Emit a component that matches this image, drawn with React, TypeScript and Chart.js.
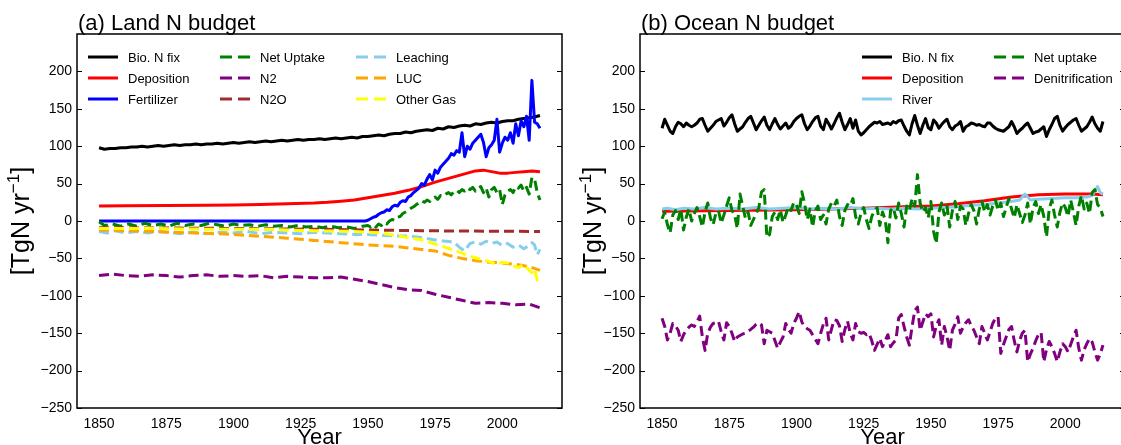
import React, { useEffect, useRef } from 'react';
import { Chart, registerables } from 'chart.js';

Chart.register(...registerables);

const FONT = '"Liberation Sans", Arial, Helvetica, sans-serif';

const X_TICKS = [1850, 1875, 1900, 1925, 1950, 1975, 2000];
const Y_TICKS = [-250, -200, -150, -100, -50, 0, 50, 100, 150, 200];
const X_RANGE = [1841.8, 2022.2];
const Y_RANGE = [-250, 250];

type Pair = [number, number];

// ---------------- Land N budget ----------------
const LAND_BIOFIX: Pair[] = [
  [1850, 98], [1852, 96], [1854, 97], [1856, 97], [1858, 98], [1860, 98], [1862, 99], [1864, 99],
  [1866, 100], [1868, 99], [1870, 100], [1872, 101], [1874, 100], [1876, 101], [1878, 102], [1880, 101],
  [1882, 102], [1884, 102], [1886, 103], [1888, 102], [1890, 103], [1892, 103], [1894, 104], [1896, 103],
  [1898, 104], [1900, 105], [1902, 104], [1904, 105], [1906, 106], [1908, 105], [1910, 106], [1912, 107],
  [1914, 106], [1916, 107], [1918, 108], [1920, 107], [1922, 108], [1924, 109], [1926, 108], [1928, 109],
  [1930, 109], [1932, 110], [1934, 109], [1936, 110], [1938, 111], [1940, 110], [1942, 111], [1944, 112],
  [1946, 111], [1948, 113], [1950, 113], [1952, 114], [1954, 115], [1956, 114], [1958, 116], [1960, 117],
  [1962, 117], [1964, 119], [1966, 118], [1968, 120], [1970, 121], [1972, 122], [1974, 121], [1976, 124],
  [1978, 123], [1980, 126], [1982, 125], [1984, 127], [1986, 128], [1988, 127], [1990, 130], [1992, 129],
  [1994, 131], [1996, 132], [1998, 131], [2000, 133], [2002, 134], [2004, 134], [2006, 136], [2008, 137],
  [2010, 138], [2012, 139], [2014, 141],
];

const LAND_DEPOSITION: Pair[] = [
  [1850, 20], [1860, 20.3], [1875, 20.6], [1890, 21], [1900, 21.5], [1910, 22], [1920, 23], [1930, 24],
  [1935, 25], [1940, 26.5], [1945, 28], [1950, 31], [1955, 34], [1960, 37], [1965, 41], [1970, 46],
  [1975, 52], [1980, 57], [1985, 62], [1990, 67], [1993, 68], [1996, 66], [1999, 64], [2002, 64],
  [2005, 65], [2008, 66], [2011, 67], [2014, 66],
];

const LAND_FERTILIZER_EARLY: Pair[] = [[1850, 0], [1949, 0]];
const LAND_FERTILIZER_START = 1950;
const LAND_FERTILIZER_ANNUAL = [
  1, 3, 5, 6, 9, 11, 12, 15, 14, 19,
  21, 20, 25, 27, 26, 32, 34, 38, 41, 44,
  50, 48, 56, 62, 55, 68, 64, 72, 76, 80,
  84, 90, 88, 94, 92, 118, 86, 100, 96, 104,
  108, 112, 116, 105, 86, 98, 102, 108, 136, 92,
  104, 112, 108, 118, 104, 130, 114, 134, 126, 140,
  108, 188, 132, 130, 124,
];

const LAND_NETUPTAKE_EARLY: Pair[] = [
  [1850, -1], [1852, -6], [1855, -4], [1858, -7], [1861, -4], [1864, -7], [1867, -3], [1870, -6],
  [1873, -4], [1876, -7], [1879, -3], [1882, -6], [1885, -4], [1888, -6], [1891, -3], [1894, -5],
  [1897, -7], [1900, -4], [1903, -6], [1906, -5], [1909, -7], [1912, -5], [1915, -7], [1918, -6],
  [1921, -8], [1924, -6], [1927, -8], [1930, -7], [1933, -9], [1936, -7], [1939, -9], [1942, -8],
  [1945, -10], [1948, -7],
];
const LAND_NETUPTAKE_START = 1950;
const LAND_NETUPTAKE_ANNUAL = [
  -6, -8, -5, -8, -4, -6, -2, -4, 0, 2,
  1, 5, 6, 10, 12, 14, 17, 19, 22, 24,
  27, 25, 28, 26, 30, 32, 29, 34, 33, 36,
  38, 35, 39, 41, 38, 42, 40, 44, 42, 45,
  40, 44, 46, 38, 44, 32, 42, 45, 38, 42,
  22, 35, 40, 42, 38, 46, 44, 48, 40, 45,
  36, 58, 56, 38, 28,
];

const LAND_N2: Pair[] = [
  [1850, -73], [1855, -71], [1860, -73], [1865, -74], [1870, -72], [1875, -73], [1880, -75], [1885, -73],
  [1890, -72], [1895, -74], [1900, -73], [1905, -74], [1910, -73], [1915, -76], [1920, -74], [1925, -75],
  [1930, -76], [1935, -76], [1940, -75], [1945, -78], [1950, -81], [1955, -85], [1960, -89], [1965, -92],
  [1970, -93], [1975, -98], [1980, -102], [1985, -106], [1990, -110], [1995, -109], [2000, -110],
  [2005, -112], [2010, -111], [2014, -116],
];

const LAND_N2O: Pair[] = [
  [1850, -9], [1880, -9.5], [1900, -10], [1930, -11], [1950, -12], [1970, -13], [1990, -13.5], [2014, -14],
];

const LAND_LEACHING: Pair[] = [
  [1850, -14], [1853, -16], [1856, -13], [1860, -16], [1864, -14], [1868, -16], [1872, -14], [1876, -15],
  [1880, -17], [1885, -15], [1890, -17], [1895, -15], [1900, -16], [1905, -14], [1910, -17], [1915, -15],
  [1920, -16], [1925, -17], [1930, -15], [1935, -16], [1940, -17], [1945, -18], [1950, -18], [1955, -19],
  [1960, -20], [1965, -20], [1970, -22], [1973, -24], [1976, -26], [1979, -27], [1982, -28], [1984, -35],
  [1986, -40], [1988, -30], [1990, -28], [1992, -31], [1994, -27], [1996, -30], [1998, -28], [2000, -33],
  [2002, -30], [2004, -35], [2006, -32], [2008, -37], [2010, -33], [2011, -29], [2012, -32], [2013, -45],
  [2014, -38],
];

const LAND_LUC: Pair[] = [
  [1850, -12], [1860, -13], [1870, -14], [1880, -15.5], [1890, -16.5], [1900, -18], [1910, -20.5],
  [1920, -23], [1930, -26], [1940, -29], [1950, -32], [1960, -34], [1970, -38], [1975, -40], [1980, -46],
  [1985, -50], [1990, -53], [1995, -55], [2000, -56], [2005, -58], [2010, -61], [2014, -66],
];

const LAND_OTHERGAS: Pair[] = [
  [1850, -10], [1870, -10], [1890, -11], [1910, -11], [1930, -13], [1945, -14], [1955, -16], [1963, -21],
  [1970, -25], [1976, -32], [1982, -39], [1988, -47], [1992, -51], [1995, -54], [1998, -58], [2000, -55],
  [2002, -56], [2004, -60], [2006, -62], [2008, -58], [2010, -66], [2011, -69], [2012, -64], [2013, -79],
  [2014, -72],
];

// ---------------- Ocean N budget ----------------
const OCEAN_START = 1850;
const OCEAN_BIOFIX = [
  124, 136, 128, 120, 117, 126, 132, 130, 126, 131,
  128, 126, 128, 131, 136, 137, 128, 120, 124, 128,
  133, 135, 137, 127, 132, 138, 142, 130, 120, 123,
  126, 132, 137, 140, 131, 122, 128, 134, 139, 128,
  122, 130, 137, 129, 123, 127, 131, 124, 127, 133,
  137, 140, 142, 130, 122, 127, 133, 138, 140, 127,
  122, 136, 130, 123, 130, 138, 144, 132, 122, 129,
  137, 124, 135, 120, 115, 118, 122, 126, 129, 132,
  131, 133, 129, 130, 131, 129, 133, 131, 134, 135,
  127, 120, 115, 130, 141, 128, 117, 128, 137, 125,
  122, 135, 131, 124, 129, 133, 136, 126, 122, 127,
  129, 133, 120, 126, 128, 131, 130, 128, 129, 127,
  126, 131, 131, 127, 124, 122, 121, 120, 123, 126,
  133, 126, 117, 121, 124, 128, 131, 124, 117, 119,
  120, 123, 126, 113, 122, 129, 137, 140, 128, 120,
  125, 129, 132, 135, 137, 128, 120, 123, 126, 132,
  139, 130, 124, 120, 133,
];

const OCEAN_DEPOSITION: Pair[] = [
  [1850, 13], [1875, 14], [1900, 15], [1925, 17], [1940, 19], [1950, 20], [1960, 23], [1970, 27],
  [1980, 32], [1990, 35], [2000, 36], [2010, 36], [2014, 35],
];

const OCEAN_RIVER: Pair[] = [
  [1850, 16], [1852, 17], [1855, 15], [1858, 17], [1862, 16], [1866, 18], [1870, 16], [1875, 17],
  [1880, 16], [1885, 18], [1890, 16], [1895, 17], [1900, 18], [1905, 16], [1910, 17], [1915, 16],
  [1920, 18], [1925, 16], [1930, 17], [1935, 16], [1940, 17], [1945, 16], [1950, 17], [1955, 18],
  [1960, 19], [1965, 21], [1970, 22], [1975, 24], [1980, 26], [1983, 28], [1985, 36], [1987, 28],
  [1990, 29], [1995, 30], [2000, 31], [2005, 31], [2008, 32], [2010, 34], [2012, 46], [2013, 38],
  [2014, 36],
];

const OCEAN_NETUPTAKE = [
  3, 12, -5, -16, 8, 14, 2, 16, -12, 5,
  16, 0, 10, 18, 6, -8, 12, 24, 4, -5,
  10, 14, -3, 8, 20, 31, 14, 8, -10, 36,
  20, 4, 12, -6, 2, 10, 18, 39, 42, -22,
  -18, 6, 12, 2, 15, -2, 8, 19, 14, 25,
  22, 10, 39, 24, 2, 16, -8, 14, 20, 2,
  8, -4, 16, 24, 20, 28, 6, -6, 14, 22,
  20, 30, 6, -4, 10, 18, 2, -10, 6, 14,
  18, -6, 12, 2, -29, 14, 18, 4, 24, 10,
  -8, 20, 14, 30, 20, 62, 24, 12, 18, 4,
  26, -14, -30, 12, 24, 8, 20, -8, 14, 26,
  2, 20, 16, -6, 10, 22, 14, -4, 16, 26,
  12, 22, 8, 20, 28, 14, 24, 6, 18, 30,
  16, 4, 22, 10, -2, 8, 24, -4, 18, 26,
  10, 22, 6, -21, 16, 28, 8, -8, 12, 24,
  18, 6, 28, 12, -6, 20, 34, 16, 24, 10,
  38, 42, 22, 18, 6,
];

const OCEAN_DENITRIFICATION = [
  -130, -141, -159, -150, -137, -140, -146, -161, -152, -146,
  -142, -139, -141, -135, -127, -155, -173, -150, -142, -137,
  -136, -134, -148, -159, -136, -141, -150, -161, -155, -153,
  -151, -150, -147, -145, -142, -138, -136, -139, -164, -146,
  -148, -150, -160, -170, -162, -155, -137, -145, -150, -137,
  -130, -121, -135, -141, -144, -146, -152, -158, -164, -150,
  -138, -130, -159, -145, -132, -133, -140, -161, -145, -134,
  -150, -159, -137, -148, -150, -149, -152, -150, -160, -173,
  -165, -157, -168, -160, -152, -168, -163, -159, -130, -125,
  -141, -155, -166, -141, -120, -115, -146, -135, -124, -128,
  -124, -155, -140, -132, -166, -141, -155, -173, -146, -138,
  -128, -150, -142, -136, -132, -140, -146, -155, -164, -141,
  -150, -159, -148, -137, -130, -128, -177, -165, -155, -145,
  -141, -160, -175, -160, -150, -146, -188, -178, -170, -160,
  -152, -149, -188, -172, -161, -168, -177, -188, -175, -164,
  -168, -175, -165, -155, -146, -170, -186, -172, -164, -157,
  -162, -175, -186, -178, -166,
];

const COLORS = {
  black: '#000000', red: '#ff0000', blue: '#0000ff', green: '#008000', purple: '#800080',
  brown: '#a52a2a', skyblue: '#87ceeb', orange: '#ffa500', yellow: '#ffff00',
};

const pairs = (p: Pair[]) => p.map(([x, y]) => ({ x, y }));
const annual = (start: number, v: number[]) => v.map((y, i) => ({ x: start + i, y }));

interface SeriesDef { label: string; data: { x: number; y: number }[]; color: string; dashed: boolean }

const LAND_SERIES: SeriesDef[] = [
  { label: 'Bio. N fix', data: pairs(LAND_BIOFIX), color: COLORS.black, dashed: false },
  { label: 'Deposition', data: pairs(LAND_DEPOSITION), color: COLORS.red, dashed: false },
  { label: 'Fertilizer', data: [...pairs(LAND_FERTILIZER_EARLY), ...annual(LAND_FERTILIZER_START, LAND_FERTILIZER_ANNUAL)], color: COLORS.blue, dashed: false },
  { label: 'Net Uptake', data: [...pairs(LAND_NETUPTAKE_EARLY), ...annual(LAND_NETUPTAKE_START, LAND_NETUPTAKE_ANNUAL)], color: COLORS.green, dashed: true },
  { label: 'N2', data: pairs(LAND_N2), color: COLORS.purple, dashed: true },
  { label: 'N2O', data: pairs(LAND_N2O), color: COLORS.brown, dashed: true },
  { label: 'Leaching', data: pairs(LAND_LEACHING), color: COLORS.skyblue, dashed: true },
  { label: 'LUC', data: pairs(LAND_LUC), color: COLORS.orange, dashed: true },
  { label: 'Other Gas', data: pairs(LAND_OTHERGAS), color: COLORS.yellow, dashed: true },
];

const OCEAN_SERIES: SeriesDef[] = [
  { label: 'Bio. N fix', data: annual(OCEAN_START, OCEAN_BIOFIX), color: COLORS.black, dashed: false },
  { label: 'Deposition', data: pairs(OCEAN_DEPOSITION), color: COLORS.red, dashed: false },
  { label: 'River', data: pairs(OCEAN_RIVER), color: COLORS.skyblue, dashed: false },
  { label: 'Net uptake', data: annual(OCEAN_START, OCEAN_NETUPTAKE), color: COLORS.green, dashed: true },
  { label: 'Denitrification', data: annual(OCEAN_START, OCEAN_DENITRIFICATION), color: COLORS.purple, dashed: true },
];

const DATA_DASH = [10, 5];
const LEGEND_DASH = [12, 6];

const fmtY = (v: number) => (v < 0 ? '\u2212' + Math.abs(v) : String(v));

interface PanelCfg {
  title: string;
  series: SeriesDef[];
  legendCols: number[]; // offsets from plot left
  yLabelX: number;
}

function drawYLabel(ctx: CanvasRenderingContext2D, cx: number, cy: number) {
  const big = `25px ${FONT}`;
  const small = `17px ${FONT}`;
  const parts: { t: string; f: string; dy: number }[] = [
    { t: '[TgN yr', f: big, dy: 0 },
    { t: '\u22121', f: small, dy: -10 },
    { t: ']', f: big, dy: 0 },
  ];
  let total = 0;
  parts.forEach((p) => { ctx.font = p.f; total += ctx.measureText(p.t).width; });
  ctx.save();
  ctx.translate(cx, cy);
  ctx.rotate(-Math.PI / 2);
  ctx.textAlign = 'left';
  ctx.textBaseline = 'alphabetic';
  let x = -total / 2;
  const base = 9;
  parts.forEach((p) => {
    ctx.font = p.f;
    ctx.fillText(p.t, x, base + p.dy);
    x += ctx.measureText(p.t).width;
  });
  ctx.restore();
}

function makeDecor(cfg: PanelCfg) {
  return {
    id: 'decor',
    afterDraw(chart: any) {
      const { ctx, chartArea: a, scales } = chart;
      ctx.save();
      // frame
      ctx.strokeStyle = '#000';
      ctx.lineWidth = 1.5;
      ctx.setLineDash([]);
      ctx.strokeRect(a.left, a.top, a.right - a.left, a.bottom - a.top);
      // inward y ticks on both sides
      ctx.lineWidth = 1;
      scales.y.ticks.forEach((t: any) => {
        const py = Math.round(scales.y.getPixelForValue(t.value)) + 0.5;
        ctx.beginPath();
        ctx.moveTo(a.left, py);
        ctx.lineTo(a.left + 5, py);
        ctx.moveTo(a.right, py);
        ctx.lineTo(a.right - 5, py);
        ctx.stroke();
      });
      // title
      ctx.fillStyle = '#000';
      ctx.font = `22px ${FONT}`;
      ctx.textAlign = 'left';
      ctx.textBaseline = 'alphabetic';
      ctx.fillText(cfg.title, a.left + 1, a.top - 4);
      // x axis label
      ctx.textAlign = 'center';
      ctx.fillText('Year', (a.left + a.right) / 2, 444);
      // legend
      ctx.font = `13px ${FONT}`;
      ctx.textAlign = 'left';
      ctx.textBaseline = 'middle';
      chart.data.datasets.forEach((ds: any, i: number) => {
        const col = Math.floor(i / 3);
        const row = i % 3;
        const x0 = a.left + cfg.legendCols[col];
        const y0 = a.top + 23 + row * 21;
        ctx.strokeStyle = ds.borderColor;
        ctx.lineWidth = 3;
        ctx.setLineDash(ds.borderDash && ds.borderDash.length ? LEGEND_DASH : []);
        ctx.beginPath();
        ctx.moveTo(x0, y0);
        ctx.lineTo(x0 + 30, y0);
        ctx.stroke();
        ctx.setLineDash([]);
        ctx.fillStyle = '#000';
        ctx.fillText(ds.label, x0 + 40, y0 + 1);
      });
      // y axis label
      drawYLabel(ctx, cfg.yLabelX, (a.top + a.bottom) / 2);
      ctx.restore();
    },
  };
}

function buildConfig(cfg: PanelCfg): any {
  const n = cfg.series.length;
  return {
    type: 'line',
    data: {
      datasets: cfg.series.map((s, i) => ({
        label: s.label,
        data: s.data,
        borderColor: s.color,
        backgroundColor: s.color,
        borderWidth: 3,
        borderDash: s.dashed ? DATA_DASH : [],
        borderJoinStyle: 'round',
        pointRadius: 0,
        pointHoverRadius: 0,
        fill: false,
        tension: 0,
        order: n - i,
      })),
    },
    options: {
      animation: false,
      responsive: false,
      devicePixelRatio: 1,
      events: [],
      layout: { padding: { top: 34, right: 8, left: 0, bottom: 0 } },
      plugins: { legend: { display: false }, tooltip: { enabled: false }, title: { display: false } },
      scales: {
        x: {
          type: 'linear',
          min: X_RANGE[0],
          max: X_RANGE[1],
          grid: { display: false, drawTicks: false },
          border: { display: false },
          afterBuildTicks: (s: any) => { s.ticks = X_TICKS.map((v) => ({ value: v })); },
          afterFit: (s: any) => { s.height = 37; },
          ticks: {
            font: { family: FONT, size: 14 },
            color: '#000',
            padding: 8,
            maxRotation: 0,
            autoSkip: false,
            callback: (v: number) => String(v),
          },
        },
        y: {
          type: 'linear',
          min: Y_RANGE[0],
          max: Y_RANGE[1],
          grid: { display: false, drawTicks: false },
          border: { display: false },
          afterBuildTicks: (s: any) => { s.ticks = Y_TICKS.map((v) => ({ value: v })); },
          afterFit: (s: any) => { s.width = 77; },
          ticks: {
            font: { family: FONT, size: 14 },
            color: '#000',
            padding: 5,
            autoSkip: false,
            callback: (v: number) => fmtY(v),
          },
        },
      },
    },
    plugins: [makeDecor(cfg)],
  };
}

const LAND_PANEL: PanelCfg = { title: '(a) Land N budget', series: LAND_SERIES, legendCols: [11, 143, 279], yLabelX: 20 };
const OCEAN_PANEL: PanelCfg = { title: '(b) Ocean N budget', series: OCEAN_SERIES, legendCols: [222, 354], yLabelX: 29 };

function Panel({ cfg, left }: { cfg: PanelCfg; left: number }) {
  const ref = useRef<HTMLCanvasElement>(null);
  useEffect(() => {
    if (!ref.current) return;
    const chart = new Chart(ref.current, buildConfig(cfg));
    return () => chart.destroy();
  }, [cfg]);
  return (
    <canvas
      ref={ref}
      width={570}
      height={445}
      style={{ position: 'absolute', left, top: 0, width: 570, height: 445 }}
    />
  );
}

export default function App() {
  return (
    <div
      style={{
        position: 'fixed', left: 0, top: 0, width: 1121, height: 445,
        overflow: 'hidden', background: '#ffffff',
      }}
    >
      <Panel cfg={LAND_PANEL} left={0} />
      <Panel cfg={OCEAN_PANEL} left={563} />
    </div>
  );
}
